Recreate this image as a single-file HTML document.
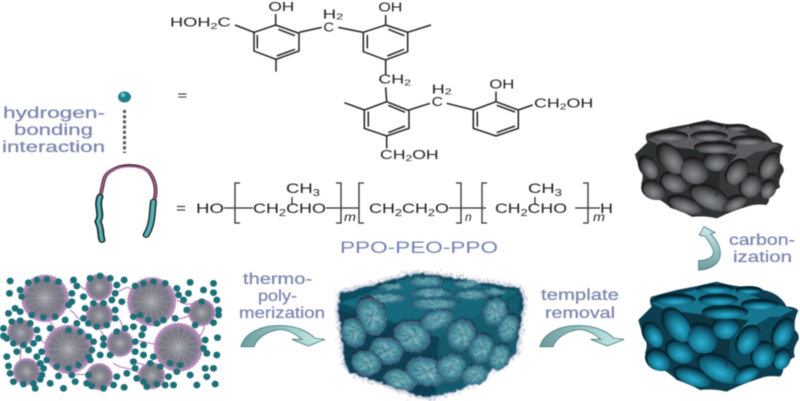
<!DOCTYPE html>
<html><head><meta charset="utf-8"><style>
html,body{margin:0;padding:0;background:#fff;width:800px;height:401px;overflow:hidden}
svg{display:block}
text{font-family:"Liberation Sans",sans-serif}
.c text,.f text{fill:#222}
.l{fill:#7c85ad;font-size:16px;stroke:#7c85ad;stroke-width:.25}
</style></head><body>
<svg width="800" height="401" viewBox="0 0 800 401" xmlns="http://www.w3.org/2000/svg">
<defs>
<filter id="b" x="-2%" y="-2%" width="104%" height="104%"><feGaussianBlur stdDeviation="0.5"/></filter>
<filter id="b2" x="-5%" y="-5%" width="110%" height="110%"><feGaussianBlur stdDeviation="0.7"/></filter>
<filter id="fz" x="-10%" y="-10%" width="120%" height="120%"><feTurbulence type="fractalNoise" baseFrequency=".07" numOctaves="2" seed="4" result="n"/><feDisplacementMap in="SourceGraphic" in2="n" scale="14" xChannelSelector="R" yChannelSelector="G"/><feGaussianBlur stdDeviation="1.6"/></filter>
<filter id="fz2" x="-15%" y="-15%" width="130%" height="130%"><feTurbulence type="fractalNoise" baseFrequency=".12" numOctaves="2" seed="9" result="n"/><feDisplacementMap in="SourceGraphic" in2="n" scale="45" xChannelSelector="R" yChannelSelector="G"/><feGaussianBlur stdDeviation="1.6"/></filter>
<filter id="g" x="-5%" y="-5%" width="110%" height="110%"><feColorMatrix type="matrix" values=".16 .32 .16 0 0  .17 .34 .17 0 0  .18 .36 .18 0 0  0 0 0 1 0"/></filter>
<linearGradient id="ag" x1="0" x2="1" y1="0" y2="0"><stop offset="0" stop-color="#6c9c9d"/><stop offset=".55" stop-color="#9cc8c8"/><stop offset="1" stop-color="#cdeeee"/></linearGradient>
<linearGradient id="ag2" x1="0" x2="0" y1="1" y2="0"><stop offset="0" stop-color="#6c9c9d"/><stop offset="1" stop-color="#cdeeee"/></linearGradient>
<radialGradient id="mg"><stop offset="0" stop-color="#a4a4aa"/><stop offset=".45" stop-color="#7f8088"/><stop offset=".74" stop-color="#7c7888"/><stop offset="1" stop-color="#b58fba"/></radialGradient>
<radialGradient id="h" cx=".52" cy=".62" r=".6"><stop offset="0" stop-color="#2fb0cf"/><stop offset=".45" stop-color="#1a86a4"/><stop offset=".8" stop-color="#0f566c"/><stop offset="1" stop-color="#0a3a4c"/></radialGradient>
<radialGradient id="o1"><stop offset="0" stop-color="#86b9bf"/><stop offset=".65" stop-color="#4f95a5"/><stop offset="1" stop-color="#245f74"/></radialGradient>
<linearGradient id="tf" x1="0" x2="1" y1="0" y2="1"><stop offset="0" stop-color="#1a7084"/><stop offset="1" stop-color="#116074"/></linearGradient>
<g id="m"><circle r="1" fill="url(#mg)"/><circle r=".96" fill="none" stroke="#b58abb" stroke-width=".14" stroke-dasharray=".08 .06" opacity=".85"/><path d="M0 0L.9 0M0 0L-.9 0M0 0L0 .9M0 0L0-.9M0 0L.65 .65M0 0L-.65 .65M0 0L.65-.65M0 0L-.65-.65M0 0L.35-.85M0 0L-.35-.85M0 0L.35 .85M0 0L-.35 .85M0 0L.85 .35M0 0L.85-.35M0 0L-.85 .35M0 0L-.85-.35" stroke="#b8b8c0" stroke-width=".018" opacity=".7"/></g>
<g id="o"><ellipse rx="1.05" ry="1.05" fill="#102c3a" opacity=".8" cy="-.08"/><circle r="1" fill="url(#o1)"/><circle r=".97" fill="none" stroke="#8a7cac" stroke-width=".1" stroke-dasharray=".07 .08" opacity=".6"/><path d="M-.7 .1L.6-.1M-.4-.4L.3 .5M.4-.5L-.3 .4M-.6-.2L.1-.1M.1 .6L.6 .2M-.5 .4L-.1 .2M-.2-.7L.2-.3M.5 .3L.75 .1M-.75-.1L-.4 .1" stroke="#1e5f70" stroke-width=".05" opacity=".85"/><path d="M-.5-.5L-.1-.2M.2 .1L.6 .5M-.3 .6L0 .3M.3-.6L.5-.2" stroke="#c8e4e4" stroke-width=".04" opacity=".6"/></g>
<g id="cb">
<path d="M290 575Q340 590 380 590Q410 585 430 600Q480 610 500 650Q525 650 535 662Q520 690 525 720Q540 735 535 750Q515 780 525 800Q500 815 490 832Q490 850 480 860Q445 855 420 865Q370 880 320 905Q280 895 240 900Q205 880 170 870Q145 845 110 830Q100 805 75 790Q85 765 75 740Q60 715 55 690Q75 670 95 650Q85 630 95 620Q130 610 170 600Q230 590 290 575Z" fill="#0c3e50"/>
<path d="M95 640L290 578L520 660L330 750L180 680Z" fill="#177690"/>
<path d="M180 665L385 690L330 750L318 832Z" fill="#0b3543"/>
<path d="M330 750L450 680L520 680L500 800L330 890Z" fill="#0d485c"/>
<g>
<g fill="#062733">
<ellipse cx="285" cy="596" rx="56" ry="15"/><ellipse cx="295" cy="628" rx="60" ry="18"/><ellipse cx="315" cy="665" rx="70" ry="22"/>
<ellipse cx="165" cy="628" rx="62" ry="19"/><ellipse cx="420" cy="643" rx="58" ry="18"/><ellipse cx="385" cy="600" rx="40" ry="12"/>
<ellipse cx="168" cy="702" rx="36" ry="58" transform="rotate(-35 168 702)"/><ellipse cx="96" cy="732" rx="28" ry="42" transform="rotate(-30 96 732)"/>
<ellipse cx="178" cy="782" rx="45" ry="34" transform="rotate(25 178 782)"/><ellipse cx="243" cy="742" rx="50" ry="44" transform="rotate(30 243 742)"/>
<ellipse cx="113" cy="808" rx="40" ry="32" transform="rotate(30 113 808)"/><ellipse cx="215" cy="857" rx="58" ry="28" transform="rotate(20 215 857)"/>
<ellipse cx="295" cy="832" rx="70" ry="38" transform="rotate(25 295 832)"/><ellipse cx="315" cy="712" rx="42" ry="34"/>
<ellipse cx="383" cy="747" rx="33" ry="48" transform="rotate(35 383 747)"/><ellipse cx="428" cy="792" rx="36" ry="42" transform="rotate(30 428 792)"/>
<ellipse cx="488" cy="725" rx="30" ry="48" transform="rotate(30 488 725)"/><ellipse cx="483" cy="805" rx="26" ry="34" transform="rotate(30 483 805)"/>
<ellipse cx="373" cy="852" rx="44" ry="24" transform="rotate(-25 373 852)"/>
</g>
<g fill="url(#h)">
<ellipse cx="285" cy="600" rx="52" ry="11"/><ellipse cx="295" cy="633" rx="56" ry="13"/><ellipse cx="315" cy="671" rx="64" ry="16"/>
<ellipse cx="165" cy="633" rx="58" ry="14"/><ellipse cx="420" cy="648" rx="54" ry="13"/><ellipse cx="385" cy="604" rx="36" ry="8"/>
<ellipse cx="172" cy="708" rx="33" ry="54" transform="rotate(-35 172 708)"/><ellipse cx="100" cy="737" rx="25" ry="38" transform="rotate(-30 100 737)"/>
<ellipse cx="182" cy="787" rx="42" ry="30" transform="rotate(25 182 787)"/><ellipse cx="247" cy="748" rx="47" ry="40" transform="rotate(30 247 748)"/>
<ellipse cx="117" cy="813" rx="37" ry="28" transform="rotate(30 117 813)"/><ellipse cx="219" cy="862" rx="55" ry="24" transform="rotate(20 219 862)"/>
<ellipse cx="299" cy="838" rx="67" ry="34" transform="rotate(25 299 838)"/><ellipse cx="318" cy="717" rx="39" ry="30"/>
<ellipse cx="387" cy="752" rx="30" ry="44" transform="rotate(35 387 752)"/><ellipse cx="432" cy="797" rx="33" ry="38" transform="rotate(30 432 797)"/>
<ellipse cx="492" cy="730" rx="27" ry="44" transform="rotate(30 492 730)"/><ellipse cx="487" cy="810" rx="23" ry="30" transform="rotate(30 487 810)"/>
<ellipse cx="377" cy="857" rx="41" ry="20" transform="rotate(-25 377 857)"/>
</g>
</g>
<path d="M318 832L330 750L385 690" fill="none" stroke="#0b3543" stroke-width="4"/>
</g>
</defs>
<rect width="800" height="401" fill="#fff"/>
<g filter="url(#b)">

<!-- top structure -->
<g class="c" transform="translate(150 0) scale(.33333)">
<g fill="none" stroke="#222" stroke-width="4.5">
<path d="M377 75L447 100V153L378 178L312 153V97Z"/><path d="M322 105V145M385 88L435 107M380 168L435 148"/>
<path d="M707 75L773 97V155L707 180L640 155V97Z"/><path d="M652 105V145M715 88L763 107M712 168L762 148"/>
<path d="M710 305L777 332V385L710 408L643 385V330Z"/><path d="M655 335V380M715 316L765 337M715 398L765 378"/>
<path d="M1038 305L1105 330V385L1038 408L970 385V330Z"/><path d="M982 335V380M1040 316L1095 336M1040 398L1095 378"/>
<path d="M255 75L312 97M377 42V75M447 97L515 82M565 82L640 97M378 178V215M707 45V75M773 97L843 75M707 180V225M707 262L710 305M643 330L583 308M777 330L840 310M890 310L970 330M1038 275V305M1105 330L1148 315M710 408V445"/>
</g>
<g font-size="38">
<text x="355" y="33" textLength="78" lengthAdjust="spacingAndGlyphs">OH</text>
<text x="60" y="80" textLength="182" lengthAdjust="spacingAndGlyphs">HOH<tspan font-size="26" dy="7">2</tspan><tspan dy="-7">C</tspan></text>
<text x="518" y="55" textLength="62" lengthAdjust="spacingAndGlyphs">H<tspan font-size="26" dy="3">2</tspan></text>
<text x="520" y="95" textLength="32" lengthAdjust="spacingAndGlyphs">C</text>
<text x="685" y="34" textLength="72" lengthAdjust="spacingAndGlyphs">OH</text>
<text x="685" y="250" textLength="98" lengthAdjust="spacingAndGlyphs">CH<tspan font-size="26" dy="6">2</tspan></text>
<text x="845" y="280" textLength="60" lengthAdjust="spacingAndGlyphs">H<tspan font-size="26" dy="3">2</tspan></text>
<text x="845" y="318" textLength="34" lengthAdjust="spacingAndGlyphs">C</text>
<text x="1018" y="266" textLength="75" lengthAdjust="spacingAndGlyphs">OH</text>
<text x="1152" y="322" textLength="178" lengthAdjust="spacingAndGlyphs">CH<tspan font-size="26" dy="6">2</tspan><tspan dy="-6">OH</tspan></text>
<text x="690" y="477" textLength="176" lengthAdjust="spacingAndGlyphs">CH<tspan font-size="26" dy="6">2</tspan><tspan dy="-6">OH</tspan></text>
<text x="82" y="298" textLength="30" lengthAdjust="spacingAndGlyphs">=</text>
</g>
</g>

<!-- left labels -->
<text class="l" x="3" y="118" textLength="102" lengthAdjust="spacingAndGlyphs">hydrogen-</text>
<text class="l" x="14" y="135" textLength="79" lengthAdjust="spacingAndGlyphs">bonding</text>
<text class="l" x="2" y="152" textLength="103" lengthAdjust="spacingAndGlyphs">interaction</text>
<ellipse cx="124.5" cy="97" rx="6.5" ry="5.5" fill="#1f7f8c"/><circle cx="123" cy="95" r="2" fill="#6cc"/>
<line x1="124.5" y1="110" x2="124.5" y2="153" stroke="#555" stroke-width="3" stroke-dasharray="3 2.2"/>

<!-- hairpin -->
<g transform="translate(0 90) scale(.40816 .33333)" fill="none" stroke-linecap="round">
<path d="M245 320C255 280 250 255 275 240C300 222 345 222 365 245C380 270 385 300 378 330" stroke="#2a1a2a" stroke-width="9"/>
<path d="M245 320C255 280 250 255 275 240C300 225 345 225 365 245C380 270 385 300 378 330" stroke="#b0608c" stroke-width="4"/>
<path d="M245 320C235 350 252 370 240 395C250 420 245 435 250 450" stroke="#1a1a1a" stroke-width="17"/>
<path d="M245 320C235 350 252 370 240 395C250 420 245 435 250 450" stroke="#52b4bc" stroke-width="8"/>
<path d="M376 335C372 370 375 400 358 435" stroke="#1a1a1a" stroke-width="17"/>
<path d="M376 335C372 370 375 400 358 435" stroke="#52b4bc" stroke-width="9"/>
</g>

<!-- formula -->
<g class="f">
<text x="176" y="213" font-size="14" textLength="10" lengthAdjust="spacingAndGlyphs">=</text>
<text x="196" y="213" font-size="14" textLength="28" lengthAdjust="spacingAndGlyphs">HO</text>
<text x="253" y="213" font-size="14" textLength="73" lengthAdjust="spacingAndGlyphs">CH<tspan font-size="10" dy="3">2</tspan><tspan dy="-3">CHO</tspan></text>
<text x="369" y="213" font-size="14" textLength="80" lengthAdjust="spacingAndGlyphs">CH<tspan font-size="10" dy="3">2</tspan><tspan dy="-3">CH</tspan><tspan font-size="10" dy="3">2</tspan><tspan dy="-3">O</tspan></text>
<text x="495" y="213" font-size="14" textLength="72" lengthAdjust="spacingAndGlyphs">CH<tspan font-size="10" dy="3">2</tspan><tspan dy="-3">CHO</tspan></text>
<text x="600" y="213" font-size="14" textLength="13" lengthAdjust="spacingAndGlyphs">H</text>
<text x="286" y="193" font-size="14" textLength="34" lengthAdjust="spacingAndGlyphs">CH<tspan font-size="10" dy="3">3</tspan></text>
<text x="528" y="193" font-size="14" textLength="34" lengthAdjust="spacingAndGlyphs">CH<tspan font-size="10" dy="3">3</tspan></text>
<text x="344" y="221" font-size="12" font-style="italic" textLength="12" lengthAdjust="spacingAndGlyphs">m</text>
<text x="465" y="221" font-size="12" font-style="italic">n</text>
<text x="593" y="221" font-size="12" font-style="italic" textLength="12" lengthAdjust="spacingAndGlyphs">m</text>
<path d="M240 183H235V223H240M336 183H341V223H336M364 183H359V223H364M456 183H461V223H456M487 183H482V223H487M583 183H588V223H583M224 208H253M326 208H359M449 208H486M575 208H600M292 197V205M535 197V205" fill="none" stroke="#333" stroke-width="1.3"/>
</g>
<text x="340" y="253" font-size="17" fill="#7480b5" textLength="158" lengthAdjust="spacingAndGlyphs">PPO-PEO-PPO</text>

<!-- micelle field -->
<g transform="translate(0 260) scale(.33333)" filter="url(#b2)">
<path d="M210 70C235 60 250 100 270 85M340 95C370 100 370 70 400 90M210 150C235 165 230 190 260 170M120 170C150 175 160 200 175 220M90 225C130 225 120 250 140 250M345 165C370 185 375 215 350 225M400 250C430 230 450 265 480 245M300 210C320 230 305 250 325 255M510 160C530 190 560 170 580 160M390 300C420 320 430 300 440 330M180 330C210 350 240 340 265 345M100 320C130 315 140 300 160 300M530 120C560 140 570 130 590 130M60 250C70 280 50 300 70 310M610 190C620 210 600 220 600 230M340 310C370 330 390 320 420 340" fill="none" stroke="#b582b8" stroke-width="3.5"/>
<use href="#m" transform="translate(135 115) scale(70)"/><use href="#m" transform="translate(455 125) scale(72)"/>
<use href="#m" transform="translate(205 268) scale(72)"/><use href="#m" transform="translate(535 262) scale(72)"/>
<use href="#m" transform="translate(297 82) scale(40)"/><use href="#m" transform="translate(605 158) scale(40)"/>
<use href="#m" transform="translate(298 168) scale(40)"/><use href="#m" transform="translate(62 218) scale(40)"/>
<use href="#m" transform="translate(360 250) scale(40)"/><use href="#m" transform="translate(80 335) scale(40)"/>
<use href="#m" transform="translate(298 350) scale(40)"/><use href="#m" transform="translate(455 347) scale(40)"/>
<path fill="none" stroke="#1d7078" stroke-width="20" stroke-linecap="round" d="M30 63h1M28 100h1M85 68h1M110 60h1M140 58h1M175 65h1M60 90h1M65 110h1M215 100h1M230 78h1M220 60h1M270 55h1M300 48h1M330 55h1M372 60h1M405 78h1M430 70h1M460 65h1M495 70h1M570 67h1M640 70h1M610 90h1M565 100h1M530 85h1M535 105h1M550 120h1M605 125h1M650 120h1M640 98h1M655 150h1M655 165h1M640 188h1M560 150h1M525 175h1M585 195h1M45 145h1M25 160h1M60 155h1M95 165h1M130 172h1M165 170h1M195 180h1M230 190h1M205 135h1M215 125h1M250 110h1M350 75h1M345 100h1M335 120h1M310 130h1M280 130h1M255 145h1M250 175h1M265 190h1M290 200h1M320 195h1M345 175h1M345 150h1M365 125h1M400 170h1M420 165h1M445 180h1M470 190h1M490 180h1M400 200h1M430 205h1M375 205h1M350 215h1M310 235h1M310 255h1M330 285h1M300 285h1M270 300h1M10 205h1M10 228h1M35 185h1M60 182h1M90 190h1M110 210h1M115 235h1M100 250h1M70 255h1M40 250h1M20 235h1M50 275h1M85 270h1M20 290h1M110 290h1M120 310h1M130 325h1M125 345h1M120 358h1M100 370h1M70 372h1M40 365h1M30 340h1M25 318h1M105 385h1M150 370h1M175 348h1M190 385h1M225 365h1M260 370h1M265 345h1M215 345h1M275 378h1M310 385h1M340 375h1M350 350h1M372 382h1M380 340h1M405 325h1M410 355h1M430 365h1M440 380h1M470 372h1M495 375h1M520 375h1M505 350h1M530 335h1M540 315h1M570 345h1M590 375h1M620 350h1M645 372h1M615 325h1M640 325h1M650 285h1M620 280h1M652 233h1M615 240h1M610 265h1M425 225h1M405 245h1M430 255h1M405 275h1M430 285h1M460 290h1M450 310h1M480 320h1M510 310h1M400 305h1M150 205h1M205 210h1M240 215h1M265 230h1M280 245h1M275 270h1M265 290h1M235 315h1M205 325h1M170 320h1M140 300h1M125 275h1"/>
</g>
<g transform="translate(0 260) scale(.33333)">
<path id="ar" d="M723 260C735 215 790 195 845 197C890 198 925 215 945 235L975 238L925 258L875 238L905 238C880 215 850 205 830 210C800 215 770 235 762 260Z" fill="url(#ag)" stroke="#4f7f80" stroke-width="3"/>
<use href="#ar" transform="translate(897 0)"/>
</g>

<text class="l" x="243" y="284" textLength="69" lengthAdjust="spacingAndGlyphs">thermo-</text>
<text class="l" x="258" y="301" textLength="39" lengthAdjust="spacingAndGlyphs">poly-</text>
<text class="l" x="239" y="318" textLength="86" lengthAdjust="spacingAndGlyphs">merization</text>
<text class="l" x="541" y="300" textLength="78" lengthAdjust="spacingAndGlyphs">template</text>
<text class="l" x="545" y="318" textLength="70" lengthAdjust="spacingAndGlyphs">removal</text>
<text class="l" x="729" y="245" textLength="66" lengthAdjust="spacingAndGlyphs">carbon-</text>
<text class="l" x="733" y="262" textLength="59" lengthAdjust="spacingAndGlyphs">ization</text>

<!-- middle cube -->
<g transform="translate(320 260) scale(.33333)">
<path filter="url(#fz2)" d="M60 100L290 40L380 50L600 85L610 120L590 280L430 385L330 412L290 405L90 335L75 310L55 150Z" fill="none" stroke="#7f86ac" stroke-width="16" stroke-opacity=".4"/>
<g filter="url(#fz)">
<path d="M60 100L290 40L380 50L600 85L610 120L590 280L430 385L330 412L290 405L90 335L75 310L55 150Z" fill="#0f4c5e"/>
<path d="M60 130L290 45L600 95L358 232Z" fill="url(#tf)"/>
<path d="M55 150L358 232L345 410L290 405L85 335Z" fill="#0d4052"/>
<path d="M358 232L600 100L590 280L430 385L345 410Z" fill="#125a6e"/>
<use href="#o" transform="translate(195 115) scale(65 14)"/><use href="#o" transform="translate(320 65) scale(52 14)"/>
<use href="#o" transform="translate(335 98) scale(60 14)"/><use href="#o" transform="translate(345 132) scale(70 16)"/>
<use href="#o" transform="translate(455 105) scale(50 14)"/><use href="#o" transform="translate(215 80) scale(35 10)"/>
<use href="#o" transform="translate(440 72) scale(40 10)"/><use href="#o" transform="translate(525 95) scale(35 10)"/>
<use href="#o" transform="translate(155 170) rotate(-20) scale(42 56)"/><use href="#o" transform="translate(100 218) rotate(-20) scale(35 44)"/>
<use href="#o" transform="translate(275 230) rotate(15) scale(56 46)"/><use href="#o" transform="translate(200 272) rotate(15) scale(50 40)"/>
<use href="#o" transform="translate(140 310) rotate(15) scale(45 36)"/><use href="#o" transform="translate(240 360) rotate(15) scale(50 30)"/>
<use href="#o" transform="translate(318 335) rotate(15) scale(60 42)"/><use href="#o" transform="translate(395 322) rotate(-20) scale(45 40)"/>
<use href="#o" transform="translate(425 225) rotate(20) scale(42 46)"/><use href="#o" transform="translate(485 265) rotate(20) scale(36 42)"/>
<use href="#o" transform="translate(538 292) rotate(20) scale(30 40)"/><use href="#o" transform="translate(465 345) rotate(-10) scale(40 30)"/>
<use href="#o" transform="translate(525 155) rotate(20) scale(36 42)"/><use href="#o" transform="translate(565 205) rotate(20) scale(30 42)"/>
<use href="#o" transform="translate(350 180) rotate(-20) scale(50 28)"/>
</g>
</g>

<!-- blue and grey cubes -->
<g transform="translate(620 90) scale(.33333)">
<g filter="url(#b2)"><use href="#cb"/></g>
<g filter="url(#g)"><g filter="url(#b2)"><use href="#cb" transform="matrix(.927 0 0 .894 -6 -424)"/></g></g>
<path d="M236 540V512C265 512 285 500 280 480C275 465 262 450 258 440L238 435L252 410L285 428L272 432C290 450 305 475 300 500C295 525 265 540 236 540Z" fill="url(#ag2)" stroke="#4f7f80" stroke-width="3"/>
</g>
</g>
</svg>
</body></html>
